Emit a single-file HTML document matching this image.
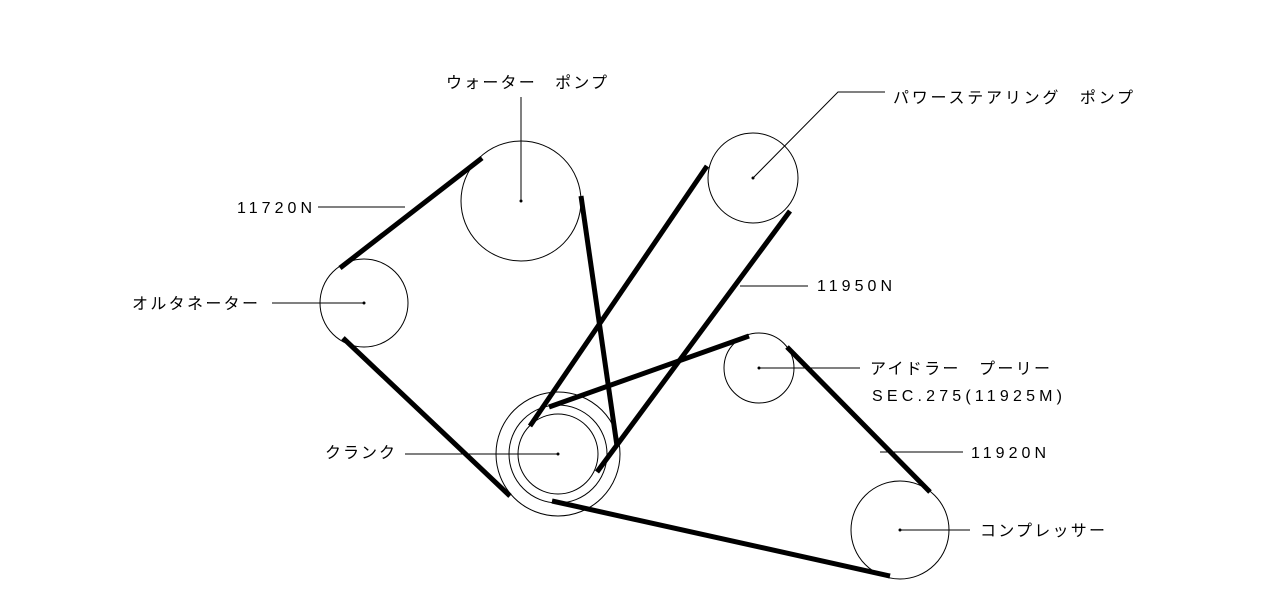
<!DOCTYPE html>
<html><head><meta charset="utf-8"><style>
html,body{margin:0;padding:0;background:#fff;}
svg text{font-family:"Liberation Sans","Noto Sans CJK JP",sans-serif;font-size:16px;fill:#000;}
</style></head><body>
<svg width="1280" height="595" viewBox="0 0 1280 595" xmlns="http://www.w3.org/2000/svg">
<g fill="none" stroke="#000" stroke-width="1">
<circle cx="521" cy="201" r="60"/>
<circle cx="753" cy="178" r="45"/>
<circle cx="364" cy="303" r="44"/>
<circle cx="759" cy="368" r="35"/>
<circle cx="558" cy="454" r="40"/>
<circle cx="558" cy="454" r="49"/>
<circle cx="558" cy="454" r="62"/>
<circle cx="900" cy="530" r="49"/>
<line x1="521" y1="97" x2="521" y2="201"/>
<polyline points="885,92 838,92 753,178"/>
<line x1="318" y1="207" x2="405" y2="207"/>
<line x1="272" y1="303" x2="364" y2="303"/>
<line x1="405" y1="454" x2="558" y2="454"/>
<line x1="740" y1="286" x2="808" y2="286"/>
<line x1="759" y1="368" x2="860" y2="368"/>
<line x1="880" y1="452" x2="963" y2="452"/>
<line x1="900" y1="530" x2="970" y2="530"/>
</g>
<g fill="#000">
<circle cx="521" cy="201" r="1.5"/><circle cx="753" cy="178" r="1.5"/>
<circle cx="364" cy="303" r="1.5"/><circle cx="759" cy="368" r="1.5"/>
<circle cx="558" cy="454" r="1.5"/><circle cx="900" cy="530" r="1.5"/>
</g>
<g stroke="#000" stroke-width="5" stroke-linecap="butt">
<line x1="340" y1="268" x2="482" y2="158"/>
<line x1="343" y1="338" x2="510" y2="496"/>
<line x1="581" y1="196" x2="617" y2="446"/>
<line x1="707" y1="166" x2="530" y2="426"/>
<line x1="790" y1="211" x2="597" y2="472"/>
<line x1="749" y1="336" x2="549" y2="407"/>
<line x1="787" y1="347" x2="930" y2="492"/>
<line x1="552" y1="501" x2="890" y2="576"/>
</g>
<text x="446" y="88" textLength="161">ウォーター　ポンプ</text>
<text x="893" y="103" textLength="240">パワーステアリング　ポンプ</text>
<text x="237" y="213" textLength="75">11720N</text>
<text x="132" y="309" textLength="126">オルタネーター</text>
<text x="817" y="291" textLength="75">11950N</text>
<text x="870" y="374" textLength="180">アイドラー　プーリー</text>
<text x="872" y="401" textLength="190">SEC.275(11925M)</text>
<text x="325" y="458" textLength="70">クランク</text>
<text x="971" y="458" textLength="75">11920N</text>
<text x="980" y="536" textLength="125">コンプレッサー</text>
</svg>
</body></html>
